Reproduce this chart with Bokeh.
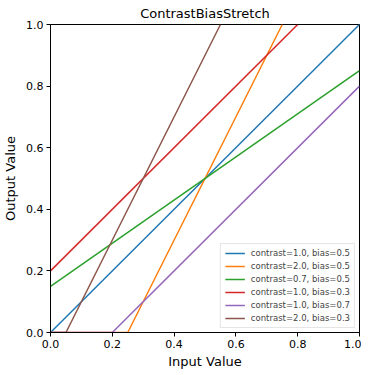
from bokeh.plotting import figure
from bokeh.models import FixedTicker, PrintfTickFormatter, Range1d, Legend, LegendItem
from bokeh.embed import file_html
from bokeh.resources import INLINE

labels = ["contrast=1.0, bias=0.5", "contrast=2.0, bias=0.5", "contrast=0.7, bias=0.5",
          "contrast=1.0, bias=0.3", "contrast=1.0, bias=0.7", "contrast=2.0, bias=0.3"]
colors = ["#1f77b4", "#ff7f0e", "#2ca02c", "#d62728", "#9467bd", "#8c564b"]
xs = [[0.0, 1.0], [0.0, 0.25, 0.75], [0.0, 1.0], [0.0, 0.8], [0.0, 0.2, 1.0], [0.0, 0.05, 0.55]]
ys = [[0.0, 1.0], [0.0, 0.0, 1.0], [0.15, 0.85], [0.2, 1.0], [0.0, 0.0, 0.8], [0.0, 0.0, 1.0]]
ticks = [0.0, 0.2, 0.4, 0.6, 0.8, 1.0]

p = figure(frame_width=309, frame_height=308, output_backend="svg", toolbar_location=None,
           x_range=Range1d(0, 1), y_range=Range1d(0, 1),
           min_border_left=49, min_border_right=2, min_border_top=0, min_border_bottom=30)
p.title.text = "ContrastBiasStretch"
p.title.align = "center"
p.title.text_font = "DejaVu Sans"
p.title.text_font_size = "13px"
p.title.text_font_style = "normal"
p.title.text_color = "black"
p.title.offset = 0
p.title.standoff = 7

p.grid.visible = False
p.outline_line_color = "black"
p.outline_line_width = 1

for ax, lab in ((p.xaxis[0], "Input Value"), (p.yaxis[0], "Output Value")):
    ax.ticker = FixedTicker(ticks=ticks)
    ax.formatter = PrintfTickFormatter(format="%.1f")
    ax.axis_label = lab
    ax.axis_label_text_font = "DejaVu Sans"
    ax.axis_label_text_font_size = "13px"
    ax.axis_label_text_font_style = "normal"
    ax.axis_label_text_color = "black"
    ax.major_label_text_font = "DejaVu Sans"
    ax.major_label_text_font_size = "11px"
    ax.major_label_text_color = "black"
    ax.major_label_standoff = 3
    ax.minor_tick_line_color = None
    ax.major_tick_out = 4
    ax.major_tick_in = 0
    ax.major_tick_line_color = "black"
    ax.axis_line_color = "black"
p.xaxis.axis_label_standoff = 3
p.yaxis.axis_label_standoff = 5

items = []
for x, y, c, lab in zip(xs, ys, colors, labels):
    r = p.line(x, y, line_color=c, line_width=1.5)
    items.append(LegendItem(label=lab, renderers=[r]))

leg = Legend(items=items, location="bottom_right")
leg.label_text_font = "DejaVu Sans"
leg.label_text_font_size = "8.5px"
leg.glyph_width = 20
leg.glyph_height = 10
leg.label_height = 10
leg.spacing = 3
leg.padding = 4
leg.margin = 4
leg.label_standoff = 6
leg.border_line_color = "#cccccc"
leg.border_line_width = 1
leg.background_fill_alpha = 0.8
p.add_layout(leg)

open("out.html", "w").write(file_html(p, INLINE))
